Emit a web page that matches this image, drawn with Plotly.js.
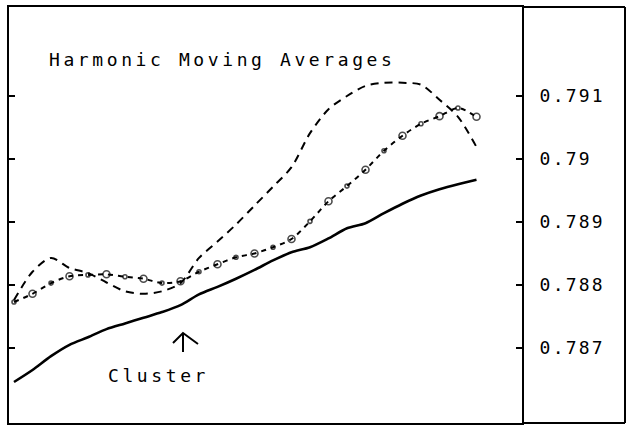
<!DOCTYPE html>
<html>
<head>
<meta charset="utf-8">
<script src="https://cdn.plot.ly/plotly-3.0.1.min.js"></script>
<style>
  html, body { margin: 0; padding: 0; background: #fff; }
  #chart { width: 631px; height: 431px; }
  .annotation-text { letter-spacing: 3.6px; }
  .ytick text { letter-spacing: 2.2px; }
</style>
</head>
<body>
<div id="chart"></div>
<script>
// Periods (equally spaced observations)
const periods = [0,1,2,3,4,5,6,7,8,9,10,11,12,13,14,15,16,17,18,19,20,21,22,23,24,25];

// Solid line
const seriesSolid = [0.78646,0.78665,0.78687,0.78705,0.78717,0.78730,0.78739,0.78748,0.78757,0.78768,
  0.78785,0.78797,0.78810,0.78824,0.78839,0.78852,0.78860,0.78874,0.78890,0.78898,
  0.78914,0.78929,0.78942,0.78952,0.78960,0.78967];

// Long-dashed line
const seriesDashed = [0.78776,0.78821,0.78843,0.78827,0.78819,0.78804,0.78790,0.78786,0.78790,0.78803,
  0.78843,0.78869,0.78896,0.78926,0.78956,0.78987,0.79041,0.79079,0.79100,0.79116,
  0.79121,0.79121,0.79118,0.79094,0.79067,0.79019];

// Short-dashed line with circles
const seriesCircles = [0.78773,0.78786,0.78803,0.78814,0.78816,0.78817,0.78813,0.78810,0.78803,0.78806,
  0.78821,0.78833,0.78844,0.78850,0.78860,0.78873,0.78901,0.78933,0.78957,0.78983,
  0.79013,0.79037,0.79056,0.79068,0.79081,0.79067];

const tickVals = [0.787, 0.788, 0.789, 0.790, 0.791];
const tickText = ['0.787', '0.788', '0.789', '0.79', '0.791'];

const titleText = 'Harmonic Moving Averages';
const clusterText = 'Cluster';

const FONT = 'DejaVu Sans Mono, Liberation Mono, monospace';

// layout geometry (pixels of the 631x431 frame)
const L = 9, R = 522, T = 7, B = 423, OUTER_R = 625;
const px = (p) => (p - L) / (R - L);
const py = (p) => (B - p) / (B - T);

const traces = [
  {
    x: periods, y: seriesSolid, type: 'scatter', mode: 'lines',
    line: {color: '#000', width: 2.6, shape: 'spline', smoothing: 0.8},
    hoverinfo: 'skip'
  },
  {
    x: periods, y: seriesDashed, type: 'scatter', mode: 'lines',
    line: {color: '#000', width: 2, dash: '8px,6px', shape: 'spline', smoothing: 0.8},
    hoverinfo: 'skip'
  },
  {
    x: periods, y: seriesCircles, type: 'scatter', mode: 'lines+markers',
    line: {color: '#000', width: 2, dash: '5px,5px', shape: 'spline', smoothing: 0.8},
    marker: {
      symbol: 'circle-open', color: '#000',
      size: periods.map((_, i) => (i % 2 === 1 ? 7 : 4)),
      line: {width: 1.6, color: '#000'}
    },
    hoverinfo: 'skip'
  }
];

const xr = px(OUTER_R);
const layout = {
  width: 631, height: 431,
  margin: {l: L, r: 631 - R, t: T, b: 431 - B, pad: 0},
  paper_bgcolor: '#fff', plot_bgcolor: '#fff',
  showlegend: false,
  font: {family: FONT, color: '#000', size: 18},
  xaxis: {
    range: [(L - 14) / 18.5, (R - 14) / 18.5],
    showgrid: false, zeroline: false, showticklabels: false, ticks: '',
    showline: true, linecolor: '#000', linewidth: 2, mirror: true
  },
  yaxis: {
    range: [0.789 - (B - 222) / 63000, 0.789 + (222 - T) / 63000],
    side: 'right',
    tickvals: tickVals, ticktext: tickText,
    ticks: 'inside', ticklen: 6, tickwidth: 1.5, tickcolor: '#000',
    ticklabelstandoff: 12,
    tickfont: {family: FONT, size: 18, color: '#000'},
    showgrid: false, zeroline: false,
    showline: true, linecolor: '#000', linewidth: 2, mirror: 'ticks'
  },
  shapes: [
    {type: 'line', xref: 'paper', yref: 'paper', x0: 1, x1: xr, y0: 1, y1: 1, line: {color: '#000', width: 2}},
    {type: 'line', xref: 'paper', yref: 'paper', x0: 1, x1: xr, y0: 0, y1: 0, line: {color: '#000', width: 2}},
    {type: 'line', xref: 'paper', yref: 'paper', x0: xr, x1: xr, y0: 0, y1: 1, line: {color: '#000', width: 2}},
    // arrow pointing at the cluster
    {type: 'line', xref: 'paper', yref: 'paper', x0: px(183), x1: px(183), y0: py(352), y1: py(333), line: {color: '#000', width: 2}},
    {type: 'path', xref: 'paper', yref: 'paper',
      path: `M ${px(173)} ${py(343)} L ${px(183)} ${py(333)} L ${px(198)} ${py(344)}`,
      line: {color: '#000', width: 2}}
  ],
  annotations: [
    {text: titleText, xref: 'paper', yref: 'paper', x: px(47), y: py(59),
      xanchor: 'left', yanchor: 'middle', showarrow: false,
      font: {family: FONT, size: 18, color: '#000'}},
    {text: clusterText, xref: 'paper', yref: 'paper', x: px(106), y: py(375),
      xanchor: 'left', yanchor: 'middle', showarrow: false,
      font: {family: FONT, size: 18, color: '#000'}}
  ]
};

Plotly.newPlot('chart', traces, layout, {staticPlot: true, displayModeBar: false});
</script>
</body>
</html>
